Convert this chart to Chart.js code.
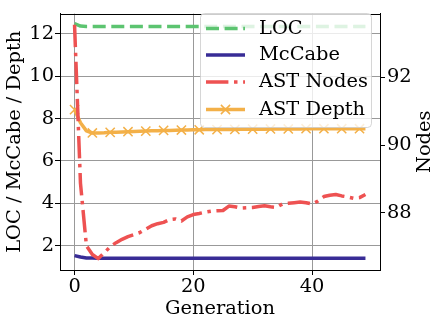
<!DOCTYPE html>
<html>
<head>
<meta charset="utf-8">
<script src="https://cdn.jsdelivr.net/npm/chart.js@4.4.1/dist/chart.umd.min.js"></script>
<style>
  html, body { margin: 0; padding: 0; background: #fff; }
  canvas { display: block; }
</style>
</head>
<body>
<canvas id="metricsChart" width="431" height="322"></canvas>
<script>
// generation index (x axis)
const generations = [
    0, 1, 2, 3, 4, 5, 6, 7, 8, 9,
    10, 11, 12, 13, 14, 15, 16, 17, 18, 19,
    20, 21, 22, 23, 24, 25, 26, 27, 28, 29,
    30, 31, 32, 33, 34, 35, 36, 37, 38, 39,
    40, 41, 42, 43, 44, 45, 46, 47, 48, 49
];

const locValues = [
    12.48, 12.37, 12.35, 12.35, 12.35, 12.35, 12.35, 12.35, 12.35, 12.35,
    12.35, 12.35, 12.35, 12.35, 12.35, 12.35, 12.35, 12.35, 12.35, 12.35,
    12.35, 12.35, 12.35, 12.35, 12.35, 12.35, 12.35, 12.35, 12.35, 12.35,
    12.35, 12.35, 12.35, 12.35, 12.35, 12.35, 12.35, 12.35, 12.35, 12.35,
    12.35, 12.35, 12.35, 12.35, 12.35, 12.35, 12.35, 12.35, 12.35, 12.35
];

const mccabeValues = [
    1.53, 1.46, 1.42, 1.41, 1.40, 1.40, 1.40, 1.40, 1.40, 1.40,
    1.40, 1.40, 1.40, 1.40, 1.40, 1.40, 1.40, 1.40, 1.40, 1.40,
    1.40, 1.40, 1.40, 1.40, 1.40, 1.40, 1.40, 1.40, 1.40, 1.40,
    1.40, 1.40, 1.40, 1.40, 1.40, 1.40, 1.40, 1.40, 1.40, 1.40,
    1.40, 1.40, 1.40, 1.40, 1.40, 1.40, 1.40, 1.40, 1.40, 1.40
];

const astNodeValues = [
    93.55, 88.87, 87.03, 86.77, 86.65, 86.82, 87.00, 87.12, 87.22, 87.30,
    87.36, 87.42, 87.52, 87.62, 87.68, 87.72, 87.80, 87.82, 87.76, 87.88,
    87.95, 87.98, 88.02, 88.05, 88.06, 88.07, 88.20, 88.18, 88.14, 88.15,
    88.16, 88.19, 88.21, 88.18, 88.16, 88.26, 88.28, 88.30, 88.32, 88.30,
    88.26, 88.35, 88.48, 88.52, 88.54, 88.50, 88.47, 88.43, 88.45, 88.54
];

const astDepthValues = [
    8.42, 7.80, 7.42, 7.32, 7.32, 7.33, 7.35, 7.36, 7.37, 7.38,
    7.39, 7.40, 7.41, 7.42, 7.43, 7.44, 7.44, 7.45, 7.46, 7.46,
    7.47, 7.47, 7.48, 7.48, 7.48, 7.49, 7.49, 7.49, 7.50, 7.50,
    7.50, 7.50, 7.50, 7.51, 7.51, 7.51, 7.51, 7.51, 7.51, 7.52,
    7.52, 7.52, 7.52, 7.52, 7.52, 7.52, 7.52, 7.52, 7.52, 7.52
];

const xTicks = [0, 20, 40];
const leftTicks = [2, 4, 6, 8, 10, 12];
const rightTicks = [88, 90, 92];

const seriesLabels = ['LOC', 'McCabe', 'AST Nodes', 'AST Depth'];

const GREEN = 'rgb(92,196,112)';
const BLUE = 'rgb(56,44,150)';
const RED = 'rgb(238,82,82)';
const ORANGE = 'rgb(243,176,72)';

const FONT = 'DejaVu Serif';
const FONT_SIZE = 19.4;
const LW = 3.5;

function toPoints(values) {
    return values.map((v, i) => ({ x: generations[i], y: v }));
}

Chart.defaults.font.family = FONT;
Chart.defaults.font.size = FONT_SIZE;
Chart.defaults.color = '#000';

// legend drawn inside the plot, on top of the lines, plus the top frame and right title
const overlayPlugin = {
    id: 'overlay',
    afterDatasetsDraw(chart) {
        const { ctx, chartArea: a } = chart;
        ctx.save();

        // top frame line
        ctx.strokeStyle = '#000';
        ctx.lineWidth = 1;
        ctx.beginPath();
        ctx.moveTo(a.left, Math.round(a.top) + 0.5);
        ctx.lineTo(a.right, Math.round(a.top) + 0.5);
        ctx.stroke();

        // legend box
        const bx = 200.5, by = 13.5, bw = 171, bh = 114;
        ctx.beginPath();
        ctx.roundRect(bx, by, bw, bh, 4);
        ctx.fillStyle = 'rgba(255,255,255,0.8)';
        ctx.fill();
        ctx.strokeStyle = 'rgba(204,204,204,0.8)';
        ctx.lineWidth = 1;
        ctx.stroke();

        const rows = [28.5, 55, 82, 109.5];
        const hx0 = 206, hx1 = 245, tx = 259;
        const styles = [
            { color: GREEN, dash: [13, 5.6] },
            { color: BLUE, dash: [] },
            { color: RED, dash: [22.4, 5.6, 3.5, 5.6] },
            { color: ORANGE, dash: [], marker: true }
        ];
        styles.forEach((s, i) => {
            const y = rows[i];
            ctx.strokeStyle = s.color;
            ctx.lineWidth = LW;
            ctx.lineCap = 'butt';
            ctx.setLineDash(s.dash);
            ctx.beginPath();
            ctx.moveTo(hx0, y);
            ctx.lineTo(hx1, y);
            ctx.stroke();
            ctx.setLineDash([]);
            if (s.marker) {
                const cx = (hx0 + hx1) / 2, r = 4.6;
                ctx.lineWidth = 1.5;
                ctx.beginPath();
                ctx.moveTo(cx - r, y - r); ctx.lineTo(cx + r, y + r);
                ctx.moveTo(cx - r, y + r); ctx.lineTo(cx + r, y - r);
                ctx.stroke();
            }
            ctx.fillStyle = '#000';
            ctx.font = FONT_SIZE + 'px "' + FONT + '"';
            ctx.textAlign = 'left';
            ctx.textBaseline = 'middle';
            ctx.fillText(seriesLabels[i], tx, y);
        });

        // right axis title, reads bottom to top like the left one
        ctx.translate(425, (a.top + a.bottom) / 2);
        ctx.rotate(-Math.PI / 2);
        ctx.textAlign = 'center';
        ctx.textBaseline = 'middle';
        ctx.fillStyle = '#000';
        ctx.fillText('Nodes', 0, 0);

        ctx.restore();
    }
};

const ctx = document.getElementById('metricsChart').getContext('2d');

new Chart(ctx, {
    type: 'line',
    data: {
        datasets: [
            {
                label: seriesLabels[0],
                data: toPoints(locValues),
                yAxisID: 'y',
                borderColor: GREEN,
                borderWidth: LW,
                borderDash: [13, 5.6],
                pointRadius: 0,
                fill: false,
                order: 3
            },
            {
                label: seriesLabels[1],
                data: toPoints(mccabeValues),
                yAxisID: 'y',
                borderColor: BLUE,
                borderWidth: LW,
                pointRadius: 0,
                fill: false,
                order: 2
            },
            {
                label: seriesLabels[3],
                data: toPoints(astDepthValues),
                yAxisID: 'y',
                borderColor: ORANGE,
                borderWidth: LW,
                pointStyle: 'crossRot',
                pointRadius: c => (c.dataIndex % 3 === 0 ? 6.5 : 0),
                pointBorderColor: ORANGE,
                pointBorderWidth: 1.5,
                fill: false,
                order: 1
            },
            {
                label: seriesLabels[2],
                data: toPoints(astNodeValues),
                yAxisID: 'y1',
                borderColor: RED,
                borderWidth: LW,
                borderDash: [22.4, 5.6, 3.5, 5.6],
                pointRadius: 0,
                fill: false,
                order: 0
            }
        ]
    },
    options: {
        responsive: false,
        animation: false,
        devicePixelRatio: 1,
        layout: { padding: { top: 4, left: 0, right: 0, bottom: 0 } },
        borderJoinStyle: 'round',
        elements: { line: { tension: 0, borderJoinStyle: 'round' } },
        plugins: {
            legend: { display: false },
            tooltip: { enabled: false }
        },
        scales: {
            x: {
                type: 'linear',
                min: -2.45,
                max: 51.45,
                afterBuildTicks: s => { s.ticks = xTicks.map(v => ({ value: v })); },
                afterFit: s => { s.height = 52; },
                grid: { color: '#999', lineWidth: 1, tickLength: 5, tickColor: '#000' },
                border: { display: true, color: '#000', width: 1 },
                ticks: { padding: 0, maxRotation: 0 },
                title: { display: true, text: 'Generation', padding: { top: 0, bottom: 1.2 } }
            },
            y: {
                position: 'left',
                min: 0.849,
                max: 12.956,
                afterBuildTicks: s => { s.ticks = leftTicks.map(v => ({ value: v })); },
                afterFit: s => { s.width = 60; },
                grid: { color: '#999', lineWidth: 1, tickLength: 5, tickColor: '#000' },
                border: { display: true, color: '#000', width: 1 },
                ticks: { padding: 1 },
                title: { display: true, text: 'LOC / McCabe / Depth', padding: { top: 3.4, bottom: 0 } }
            },
            y1: {
                position: 'right',
                min: 86.314,
                max: 93.877,
                afterBuildTicks: s => { s.ticks = rightTicks.map(v => ({ value: v })); },
                afterFit: s => { s.width = 51; },
                grid: { display: true, drawOnChartArea: false, tickLength: 5, tickColor: '#000' },
                border: { display: true, color: '#000', width: 1 },
                ticks: { padding: 2 }
            }
        }
    },
    plugins: [overlayPlugin]
});
</script>
</body>
</html>
